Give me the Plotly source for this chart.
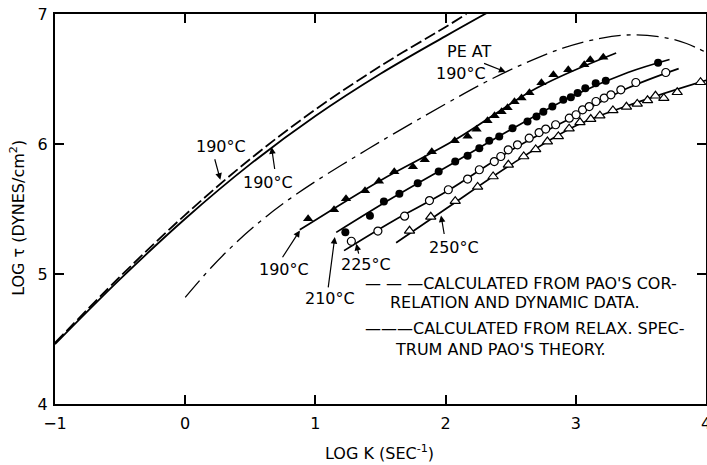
import plotly.graph_objects as go

# ---- calculated curves, PE at 190 C ----
pao_corr_x = [-1.0, -0.5, 0.0, 0.5, 1.0, 1.5, 2.0, 2.16]
pao_corr_y = [4.47, 4.98, 5.455, 5.885, 6.265, 6.60, 6.90, 7.0]
relax_x = [-1.0, -0.5, 0.0, 0.5, 1.0, 1.5, 2.0, 2.32]
relax_y = [4.46, 4.96, 5.425, 5.845, 6.215, 6.54, 6.83, 7.01]
pe_x = [0.0, 0.2, 0.4, 0.6, 0.8, 1.0, 1.3, 1.6, 2.0, 2.3, 2.6, 2.9, 3.2, 3.45, 3.7, 3.85, 4.0]
pe_y = [4.82, 5.05, 5.25, 5.424, 5.576, 5.712, 5.898, 6.078, 6.308, 6.473, 6.617, 6.737, 6.815,
        6.84, 6.815, 6.773, 6.705]

# ---- measured data ----
t190_x = [0.944, 1.143, 1.235, 1.381, 1.488, 1.606, 1.749, 1.840, 1.894, 2.070, 2.169, 2.238, 2.322,
          2.376, 2.430, 2.476, 2.529, 2.583, 2.644, 2.736, 2.828, 2.942, 3.065, 3.111, 3.211]
t190_y = [5.425, 5.494, 5.578, 5.640, 5.713, 5.786, 5.825, 5.878, 5.940, 6.025, 6.059, 6.113, 6.178,
          6.217, 6.248, 6.278, 6.325, 6.353, 6.394, 6.471, 6.532, 6.571, 6.609, 6.648, 6.667]
c210_x = [1.230, 1.419, 1.526, 1.645, 1.786, 1.947, 2.074, 2.169, 2.259, 2.335, 2.412, 2.514,
          2.629, 2.698, 2.751, 2.820, 2.904, 2.962, 3.014, 3.073, 3.153, 3.230, 3.632]
c210_y = [5.322, 5.448, 5.558, 5.617, 5.699, 5.788, 5.865, 5.909, 5.968, 6.025, 6.058, 6.122,
          6.173, 6.212, 6.248, 6.288, 6.340, 6.359, 6.392, 6.428, 6.467, 6.486, 6.625]
o225_x = [1.276, 1.480, 1.685, 1.876, 2.021, 2.169, 2.259, 2.374, 2.424, 2.481, 2.552, 2.642, 2.718,
          2.769, 2.845, 2.950, 3.002, 3.052, 3.103, 3.155, 3.218, 3.270, 3.346, 3.461, 3.691]
o225_y = [5.252, 5.330, 5.445, 5.565, 5.648, 5.730, 5.802, 5.865, 5.904, 5.955, 5.994, 6.045, 6.088,
          6.115, 6.148, 6.199, 6.225, 6.263, 6.288, 6.327, 6.353, 6.378, 6.417, 6.473, 6.550]
t250_x = [1.723, 1.886, 2.074, 2.246, 2.365, 2.482, 2.600, 2.692, 2.782, 2.866, 2.949, 3.032,
          3.115, 3.185, 3.285, 3.389, 3.472, 3.551, 3.612, 3.676, 3.779, 3.958]
t250_y = [5.332, 5.440, 5.560, 5.670, 5.750, 5.840, 5.904, 5.958, 6.019, 6.058, 6.118, 6.167,
          6.192, 6.218, 6.258, 6.286, 6.308, 6.336, 6.371, 6.353, 6.398, 6.475]

# ---- drawn-through lines ----
f190_x = [0.88, 1.5, 2.07, 2.7, 3.31]
f190_y = [5.34, 5.72, 6.03, 6.43, 6.70]
f210_x = [1.16, 1.6, 2.07, 2.5, 3.0, 3.4, 3.72]
f210_y = [5.32, 5.59, 5.86, 6.11, 6.38, 6.55, 6.65]
f225_x = [1.22, 1.6, 2.0, 2.5, 3.0, 3.4, 3.79]
f225_y = [5.18, 5.41, 5.63, 5.95, 6.22, 6.43, 6.58]
f250_x = [1.62, 2.0, 2.5, 3.0, 3.5, 4.0]
f250_y = [5.24, 5.50, 5.84, 6.14, 6.33, 6.49]

x_ticks = [-1, 0, 1, 2, 3, 4]
y_ticks = [4, 5, 6, 7]

# labels: text, text position, arrow tail, arrow tip (data coords)
labels = [
    ("190°C", (0.275, 5.98), (0.224, 5.894), (0.270, 5.725)),
    ("190°C", (0.638, 5.707), (0.689, 5.796), (0.663, 5.976)),
    ("190°C", (0.759, 5.034), (0.740, 5.117), (0.881, 5.335)),
    ("210°C", (1.110, 4.809), (1.097, 4.886), (1.149, 5.284)),
    ("225°C", (1.391, 5.075), (1.335, 5.145), (1.314, 5.232)),
    ("250°C", (2.062, 5.207), (1.991, 5.296), (1.965, 5.450)),
    ("190°C", (2.116, 6.546), (2.284, 6.625), (2.460, 6.555)),
]
pe_label = ("PE AT", (2.185, 6.709))
legend_lines = [
    ("— — —CALCULATED FROM PAO'S COR-", (1.365, 4.9285)),
    ("RELATION AND DYNAMIC DATA.", (1.556, 4.778)),
    ("———CALCULATED FROM RELAX. SPEC-", (1.365, 4.577)),
    ("TRUM AND PAO'S THEORY.", (1.595, 4.423)),
]

FONT = "DejaVu Sans"
BLACK = "black"

fig = go.Figure()
fig.add_trace(go.Scatter(x=pao_corr_x, y=pao_corr_y, mode="lines", line_shape="spline",
                         line=dict(color=BLACK, width=1.8, dash="12px,4px")))
fig.add_trace(go.Scatter(x=relax_x, y=relax_y, mode="lines", line_shape="spline",
                         line=dict(color=BLACK, width=1.8)))
fig.add_trace(go.Scatter(x=pe_x, y=pe_y, mode="lines", line_shape="spline",
                         line=dict(color=BLACK, width=1.3, dash="22px,6px,4px,6px")))
for fx, fy in [(f190_x, f190_y), (f210_x, f210_y), (f225_x, f225_y), (f250_x, f250_y)]:
    fig.add_trace(go.Scatter(x=fx, y=fy, mode="lines", line_shape="spline",
                             line=dict(color=BLACK, width=1.7)))
fig.add_trace(go.Scatter(x=t190_x, y=t190_y, mode="markers",
                         marker=dict(symbol="triangle-up", size=9, color=BLACK)))
fig.add_trace(go.Scatter(x=c210_x, y=c210_y, mode="markers",
                         marker=dict(symbol="circle", size=8, color=BLACK)))
fig.add_trace(go.Scatter(x=o225_x, y=o225_y, mode="markers",
                         marker=dict(symbol="circle", size=8, color="white",
                                     line=dict(color=BLACK, width=1.2))))
fig.add_trace(go.Scatter(x=t250_x, y=t250_y, mode="markers",
                         marker=dict(symbol="triangle-up", size=9, color="white",
                                     line=dict(color=BLACK, width=1.2))))

ann = []
for text, (tx, ty), (ax, ay), (hx, hy) in labels:
    ann.append(dict(x=tx, y=ty, xref="x", yref="y", text=text, showarrow=False,
                    font=dict(family=FONT, size=16, color=BLACK), xanchor="center", yanchor="middle"))
    ann.append(dict(x=hx, y=hy, ax=ax, ay=ay, xref="x", yref="y", axref="x", ayref="y",
                    text="", showarrow=True, arrowhead=2, arrowsize=1.1, arrowwidth=1.2,
                    arrowcolor=BLACK, standoff=0, startstandoff=0))
ann.append(dict(x=pe_label[1][0], y=pe_label[1][1], xref="x", yref="y", text=pe_label[0],
                showarrow=False, font=dict(family=FONT, size=16, color=BLACK)))
for text, (tx, ty) in legend_lines:
    ann.append(dict(x=tx, y=ty, xref="x", yref="y", text=text, showarrow=False,
                    xanchor="left", yanchor="middle", font=dict(family=FONT, size=16, color=BLACK)))
# axis titles
ann.append(dict(x=0.4992, y=-0.125, xref="paper", yref="paper", text="LOG K (SEC<sup>-1</sup>)",
                showarrow=False, xanchor="center", yanchor="middle",
                font=dict(family=FONT, size=16, color=BLACK)))
ann.append(dict(x=-0.0568, y=0.4774, xref="paper", yref="paper", text="LOG τ (DYNES/cm<sup>2</sup>)",
                showarrow=False, xanchor="center", yanchor="middle", textangle=-90,
                font=dict(family=FONT, size=16, color=BLACK)))

axis_common = dict(showgrid=False, zeroline=False, showline=True, linecolor=BLACK, linewidth=2,
                   mirror="ticks", ticks="inside", ticklen=9, tickwidth=1.5, tickcolor=BLACK,
                   ticklabeloverflow="allow", automargin=False,
                   tickfont=dict(family=FONT, size=16, color=BLACK))
fig.update_layout(
    width=707, height=465, margin=dict(l=55, r=1, t=14, b=61, autoexpand=False),
    paper_bgcolor="white", plot_bgcolor="white", showlegend=False,
    xaxis=dict(range=[-1, 4], tickvals=x_ticks, ticklabelstandoff=4, **axis_common),
    yaxis=dict(range=[4, 7], tickvals=y_ticks, ticklabelstandoff=2, **axis_common),
    annotations=ann,
)
fig.write_html("out.html")
